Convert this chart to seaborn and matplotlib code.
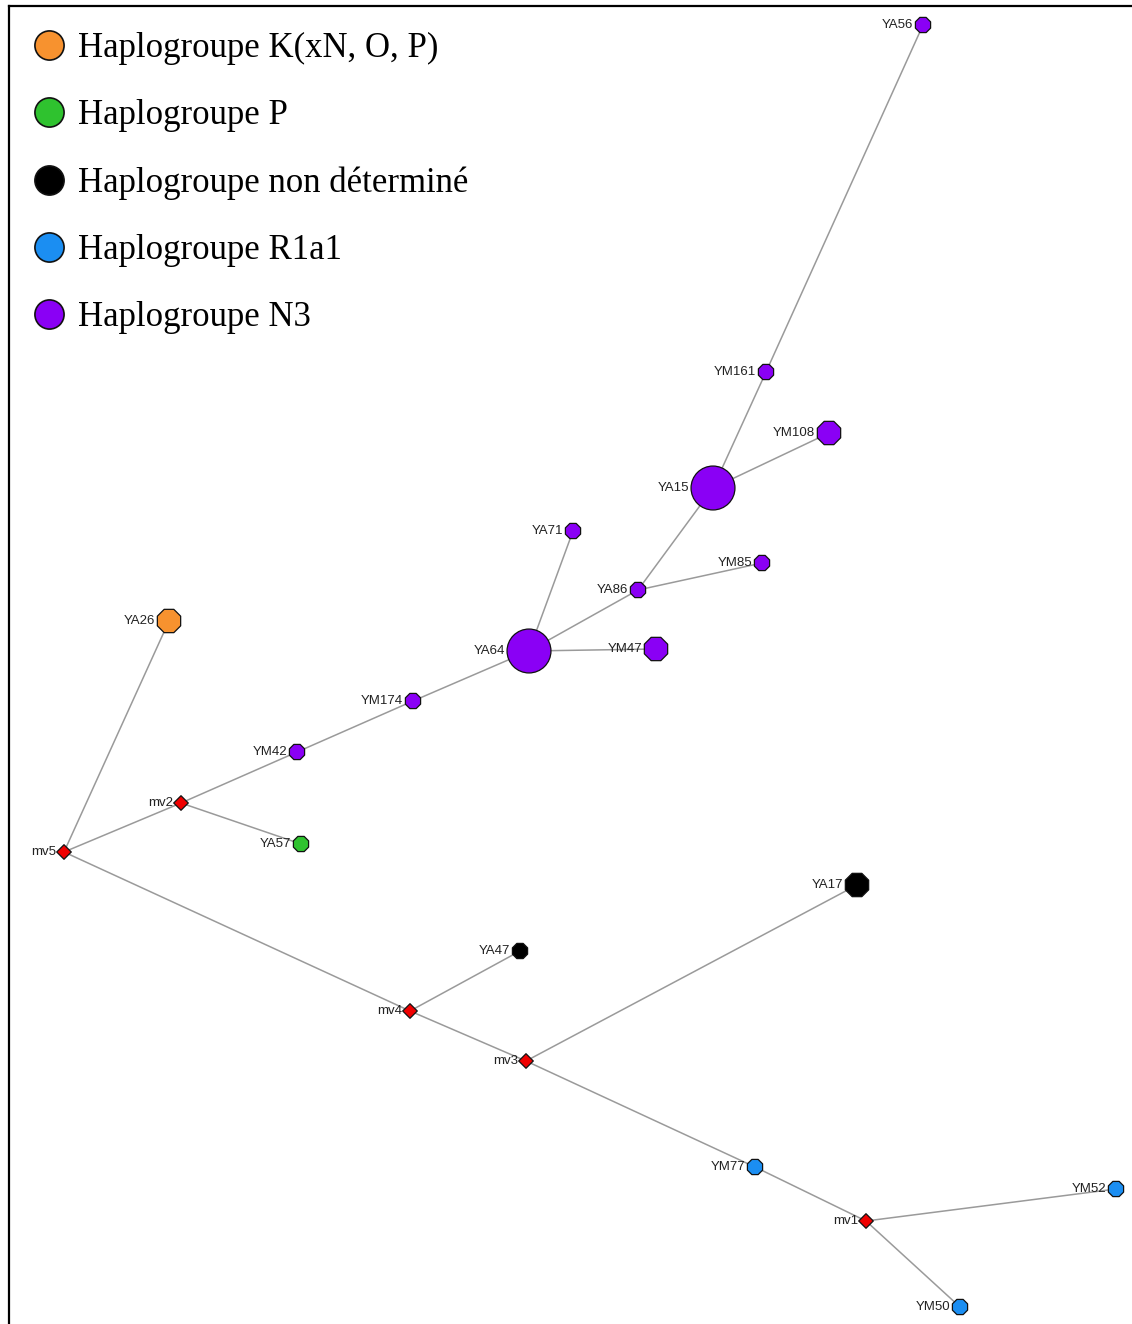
import matplotlib
matplotlib.use("Agg")
import matplotlib.pyplot as plt
from matplotlib.lines import Line2D
import seaborn as sns
import pandas as pd

# ---- data -------------------------------------------------------------
node_names = ["YA56", "YM161", "YM108", "YA15", "YA71", "YM85", "YA86", "YA64",
              "YM47", "YM174", "YM42", "mv2", "YA57", "YA26", "mv5", "YA17",
              "YA47", "mv4", "mv3", "YM77", "mv1", "YM52", "YM50"]
node_x = [923, 766, 829, 713, 573, 762, 638, 529, 656, 413, 297, 181, 301, 169,
          64, 857, 520, 410, 526, 755, 866, 1116, 960]
node_y = [25, 372, 433, 488, 531, 563, 590, 651, 649, 701, 752, 803, 844, 621,
          852, 885, 951, 1011, 1061, 1167, 1221, 1189, 1307]
node_group = ["N3", "N3", "N3", "N3", "N3", "N3", "N3", "N3", "N3", "N3", "N3",
              "median", "P", "K", "median", "ND", "ND", "median", "median",
              "R1a1", "median", "R1a1", "R1a1"]
node_count = [1, 1, 2, 3, 1, 1, 1, 3, 2, 1, 1, 0, 1, 2, 0, 2, 1, 0, 0, 1, 0, 1, 1]

edges = [("mv5", "YA26"), ("mv5", "mv2"), ("mv5", "mv4"), ("mv2", "YM42"),
         ("mv2", "YA57"), ("YM42", "YM174"), ("YM174", "YA64"), ("YA64", "YA71"),
         ("YA64", "YM47"), ("YA64", "YA86"), ("YA86", "YM85"), ("YA86", "YA15"),
         ("YA15", "YM108"), ("YA15", "YM161"), ("YM161", "YA56"), ("mv4", "YA47"),
         ("mv4", "mv3"), ("mv3", "YA17"), ("mv3", "YM77"), ("YM77", "mv1"),
         ("mv1", "YM52"), ("mv1", "YM50")]

legend_keys = ["K", "P", "ND", "R1a1", "N3"]
legend_labels = ["Haplogroupe K(xN, O, P)", "Haplogroupe P",
                 "Haplogroupe non déterminé", "Haplogroupe R1a1", "Haplogroupe N3"]

# ---- styling ----------------------------------------------------------
palette = {"K": "#f7922f", "P": "#2fc22f", "ND": "#000000", "R1a1": "#1b8ef2",
           "N3": "#8a00f5", "median": "#f00000"}
sizes = {0: 55, 1: 140, 2: 330, 3: 1000}
radius_px = {0: 6, 1: 8, 2: 12, 3: 22}

df = pd.DataFrame({"name": node_names, "x": node_x, "y": node_y,
                   "group": node_group, "count": node_count})
df["shape"] = ["median" if g == "median" else ("big" if c == 3 else "hap")
               for g, c in zip(df["group"], df["count"])]
pos = {n: (x, y) for n, x, y in zip(df["name"], df["x"], df["y"])}

sns.set_style("white")
W, H = 1132, 1324
fig = plt.figure(figsize=(W / 100, H / 100), dpi=100)
left, top = 9, 6
ax = fig.add_axes([left / W, 0, 1 - left / W, 1 - top / H])
ax.set_xlim(left, W)
ax.set_ylim(H, top)

for a, b in edges:
    xa, ya = pos[a]
    xb, yb = pos[b]
    ax.plot([xa, xb], [ya, yb], color="#9a9a9a", lw=1.1, zorder=1)

sns.scatterplot(data=df, x="x", y="y", hue="group", palette=palette,
                size="count", sizes=sizes, style="shape",
                markers={"hap": "8", "big": "o", "median": "D"},
                edgecolor="#111111", linewidth=0.9, legend=False, ax=ax, zorder=3)

for n, x, y, c in zip(df["name"], df["x"], df["y"], df["count"]):
    ax.text(x - radius_px[c] - 2, y, n, ha="right", va="center",
            fontsize=9.5, color="#222222", family="Liberation Sans", zorder=4)

handles = [Line2D([], [], marker="o", linestyle="none", markersize=21,
                  markerfacecolor=palette[k], markeredgecolor="#111111",
                  markeredgewidth=1.2) for k in legend_keys]
leg = ax.legend(handles, legend_labels, loc="upper left", frameon=False,
                bbox_to_anchor=(0.001, 0.9985), handlelength=0.85, handletextpad=0.4,
                labelspacing=0.98, borderaxespad=0.3,
                prop={"family": "Liberation Serif", "size": 25})
for t in leg.get_texts():
    t.set_color("black")

ax.set_xlabel("")
ax.set_ylabel("")
ax.set_xticks([])
ax.set_yticks([])
for s in ["right", "bottom"]:
    ax.spines[s].set_visible(False)
for s in ["left", "top"]:
    ax.spines[s].set_visible(True)
    ax.spines[s].set_color("black")
    ax.spines[s].set_linewidth(1.6)

fig.savefig("out.png", dpi=100)
